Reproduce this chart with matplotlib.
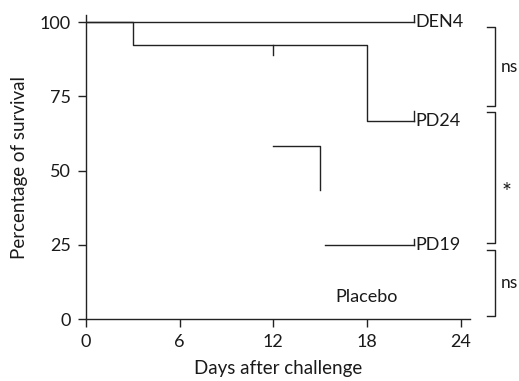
import matplotlib
matplotlib.use("Agg")
import matplotlib.pyplot as plt

plt.rcParams['font.family'] = ['Lato', 'DejaVu Sans']

# Data
den4_t = [0, 21]
den4_s = [100, 100]
den4_cens_t = [21]
den4_cens_s = [100]

pd24_t = [0, 3, 3, 18, 18, 21]
pd24_s = [100, 100, 92.3, 92.3, 66.7, 66.7]
pd24_cens_t = [12, 21]
pd24_cens_s = [92.3, 66.7]
pd24_cens_dir = [-1, 1]

pd19_t1 = [12, 15, 15]
pd19_s1 = [58.3, 58.3, 43.5]
pd19_t2 = [15.3, 21]
pd19_s2 = [25, 25]
pd19_cens_t = [21]
pd19_cens_s = [25]

group_labels = ["DEN4", "PD24", "PD19", "Placebo"]
label_pos = [(21.1, 100), (21.1, 66.7), (21.1, 25), (16.0, 7.5)]

brackets = [(98.4, 71.7, "ns"), (69.8, 25.5, "*"), (23.2, 1.0, "ns")]

xticks = [0, 6, 12, 18, 24]
yticks = [0, 25, 50, 75, 100]

fig = plt.figure(figsize=(5.19, 3.81), dpi=100)
ax = fig.add_axes([0.1657, 0.1627, 0.7399, 0.7979])
lc = '#222222'
tc = '#1a1a1a'
lw = 1.0

ax.plot(den4_t, den4_s, color=lc, lw=lw)
ax.plot(pd24_t, pd24_s, color=lc, lw=lw)
ax.plot(pd19_t1, pd19_s1, color=lc, lw=lw)
ax.plot(pd19_t2, pd19_s2, color=lc, lw=lw)

def cens(ts, ss, dirs=None, L=2.5):
    for i, (t, s) in enumerate(zip(ts, ss)):
        d = 1 if dirs is None else dirs[i]
        ax.plot([t, t], [s, s + d * L], color=lc, lw=lw)

cens(den4_cens_t, den4_cens_s, L=4)
cens(pd24_cens_t, pd24_cens_s, pd24_cens_dir, L=3.5)
cens(pd19_cens_t, pd19_cens_s, L=2)

for lab, (x, y) in zip(group_labels, label_pos):
    ax.text(x, y, lab, ha='left', va='center', fontsize=13, color=tc)

bx0, bx1 = 25.66, 26.17
for top, bot, txt in brackets:
    ax.plot([bx0, bx1, bx1, bx0], [top, top, bot, bot], color=lc, lw=lw, clip_on=False)
    if txt == '*':
        ax.text(bx1 + 0.45, (top + bot) / 2 - 5, txt, ha='left', va='center',
                fontsize=17, color=tc, clip_on=False)
    else:
        ax.text(bx1 + 0.4, (top + bot) / 2, txt, ha='left', va='center',
                fontsize=12.5, color=tc, clip_on=False)

ax.set_xlim(0, 24.6)
ax.set_ylim(0, 102.4)
ax.set_xticks(xticks)
ax.set_yticks(yticks)
ax.tick_params(labelsize=13, length=6, width=1, color=lc, labelcolor=tc)
ax.tick_params(axis='x', pad=5)
ax.tick_params(axis='y', pad=5)
for sp in ['top', 'right']:
    ax.spines[sp].set_visible(False)
for sp in ['left', 'bottom']:
    ax.spines[sp].set_color(lc)
    ax.spines[sp].set_linewidth(lw)
ax.set_xlabel("Days after challenge", fontsize=13.5, color=tc, labelpad=7)
ax.set_ylabel("Percentage of survival", fontsize=13.5, color=tc, labelpad=8)

fig.savefig("out.png", dpi=100)
